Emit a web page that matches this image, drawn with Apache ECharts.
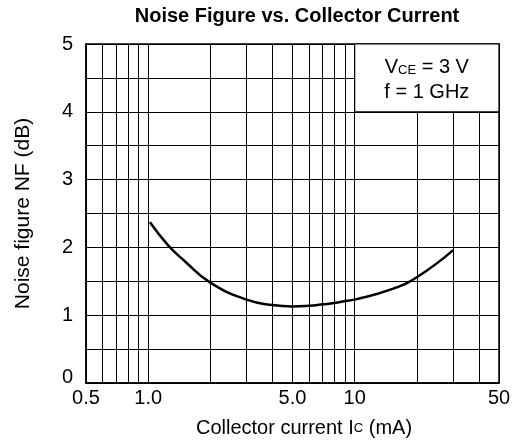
<!DOCTYPE html>
<html lang="en">
<head>
    <meta charset="UTF-8">
    <title>Noise Figure vs. Collector Current</title>
    <script src="https://cdn.jsdelivr.net/npm/echarts@6/dist/echarts.min.js"></script>
    <style>
        html, body { margin: 0; padding: 0; background: #fff; }
    </style>
</head>
<body>
<div id="main" style="width: 515px;height:446px;"></div>
</body>
<script type="text/javascript">
    // curve: collector current (mA) -> NF (dB)
    var current = [1.02, 1.25, 1.5, 2, 3, 4, 5, 6, 7, 8, 9, 10, 15, 20, 30];
    var noiseFigure = [2.37, 2.03, 1.80, 1.48, 1.23, 1.15, 1.13, 1.14, 1.16, 1.18, 1.21, 1.23, 1.38, 1.56, 1.96];

    // log grid lines and labelled ticks on the x axis
    var gridX = [0.5, 0.6, 0.7, 0.8, 0.9, 1, 2, 3, 4, 5, 6, 7, 8, 9, 10, 20, 30, 40, 50];
    var tickValues = [0.5, 1, 5, 10, 50];
    var tickLabels = ['0.5', '1.0', '5.0', '10', '50'];

    var font = '"Liberation Sans", Arial, Helvetica, sans-serif';
    var myChart = echarts.init(document.getElementById('main'));

    var points = current.map(function (c, i) {
        return [c, noiseFigure[i]];
    });

    var gridLines = gridX.map(function (v) {
        var item = { xAxis: v };
        var k = tickValues.indexOf(v);
        if (k >= 0) {
            item.label = { show: true, formatter: tickLabels[k] };
        }
        return item;
    });

    var option = {
        animation: false,
        backgroundColor: '#fff',
        title: {
            text: 'Noise Figure vs. Collector Current',
            left: 292,
            top: 1,
            textAlign: 'center',
            textStyle: { fontFamily: font, fontSize: 20, fontWeight: 'bold', color: '#000' }
        },
        grid: {
            left: 86, right: 16, top: 44, bottom: 63,
            show: true, borderColor: '#000', borderWidth: 1.5
        },
        xAxis: {
            type: 'log',
            logBase: 10,
            min: 0.5,
            max: 50,
            name: 'Collector current I{s|C} (mA)',
            nameLocation: 'middle',
            nameGap: 35,
            nameTextStyle: {
                fontFamily: font, fontSize: 20, color: '#000', padding: [0, 0, 0, 23],
                rich: { s: { fontFamily: font, fontSize: 13, color: '#000' } }
            },
            axisLine: { lineStyle: { color: '#000', width: 1.5 } },
            axisTick: { show: false },
            axisLabel: { show: false },
            splitLine: { show: false }
        },
        yAxis: {
            type: 'value',
            min: 0,
            max: 5,
            interval: 0.5,
            name: 'Noise figure NF (dB)',
            nameLocation: 'middle',
            nameGap: 52,
            nameTextStyle: { fontFamily: font, fontSize: 21, color: '#000' },
            axisLine: { show: true, lineStyle: { color: '#000', width: 1.5 } },
            axisTick: { show: false },
            axisLabel: {
                margin: 13,
                fontFamily: font,
                fontSize: 20,
                color: '#000',
                formatter: function (v) {
                    if (v % 1 !== 0) return '';
                    if (v === 0) return '{z|0}';
                    return String(v);
                },
                rich: { z: { fontFamily: font, fontSize: 20, color: '#000', padding: [0, 0, 12, 0] } }
            },
            splitLine: { show: true, lineStyle: { color: '#000', width: 1 } }
        },
        series: [
            {
                // vertical log grid + x tick labels
                type: 'line',
                data: [],
                z: 1,
                silent: true,
                markLine: {
                    silent: true,
                    z: 2,
                    symbol: 'none',
                    animation: false,
                    lineStyle: { color: '#000', width: 1, type: 'solid' },
                    label: {
                        show: false,
                        position: 'start',
                        distance: 5,
                        fontFamily: font,
                        fontSize: 20,
                        color: '#000'
                    },
                    emphasis: { disabled: true },
                    data: gridLines
                }
            },
            {
                name: 'NF',
                type: 'line',
                data: points,
                z: 3,
                smooth: true,
                showSymbol: false,
                lineStyle: { color: '#000', width: 2.5 }
            },
            {
                // condition box, top right
                type: 'line',
                data: [],
                z: 4,
                silent: true,
                markArea: {
                    silent: true,
                    z: 10,
                    itemStyle: { color: '#fff', borderColor: '#000', borderWidth: 1.2 },
                    label: {
                        show: true,
                        position: 'inside',
                        fontFamily: font,
                        color: '#000',
                        formatter: '{v|V}{s|CE}{v| = 3 V}\n{v|f = 1 GHz}',
                        rich: {
                            v: { fontFamily: font, fontSize: 20, lineHeight: 25, color: '#000', verticalAlign: 'bottom' },
                            s: { fontFamily: font, fontSize: 13, lineHeight: 25, color: '#000', verticalAlign: 'bottom', padding: [0, 0, 1, 0] }
                        }
                    },
                    emphasis: { disabled: true },
                    data: [[{ coord: [10, 4] }, { coord: [50, 5] }]]
                }
            }
        ]
    };

    myChart.setOption(option);
</script>
</html>
